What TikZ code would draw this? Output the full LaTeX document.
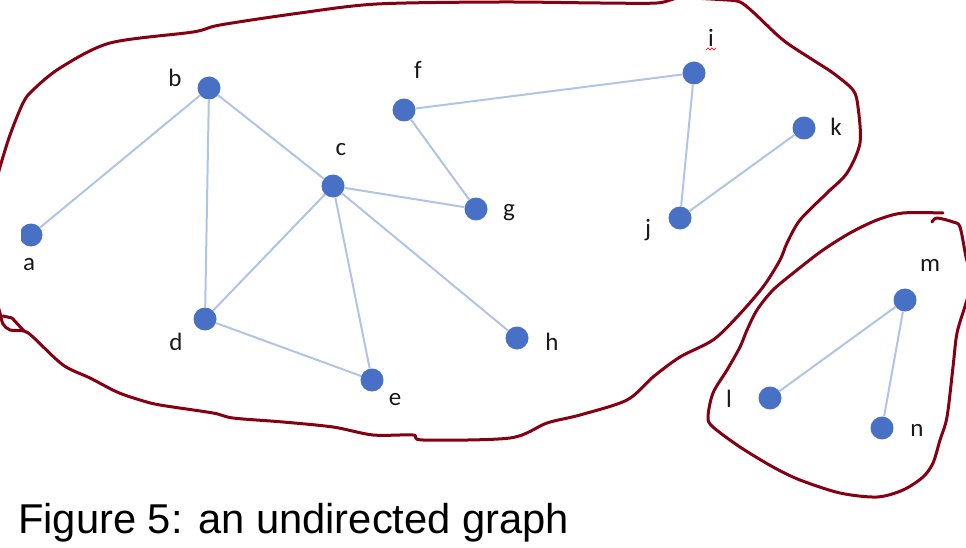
\documentclass[tikz,border=0pt]{standalone}
\usepackage{fontspec}
\setmainfont{Carlito}
\newfontfamily\capfont{Liberation Sans}
\definecolor{nodeblue}{RGB}{72,112,196}
\definecolor{edgeblue}{RGB}{176,196,230}
\definecolor{loopred}{RGB}{132,0,18}
\definecolor{squig}{RGB}{230,60,60}
\begin{document}
\begin{tikzpicture}[x=1pt,y=-1pt,
  vtx/.style={circle,fill=nodeblue,draw=none,minimum size=23pt,inner sep=0pt},
  lbl/.style={font=\fontsize{25}{29}\selectfont,text=black!90,inner sep=0pt},
  edge/.style={draw=edgeblue,line width=2pt},
  loopline/.style={draw=loopred,line width=3pt,line join=round,line cap=round}]
\useasboundingbox (0,0) rectangle (966,548);
\begin{scope}
\clip (0,0) rectangle (966,548);
% vertices
\begin{scope}
\clip (21,0) rectangle (966,548);
\node[vtx] (a) at (31,235) {};
\end{scope}
\node[vtx] (b) at (209,88) {};
\node[vtx] (c) at (333,186) {};
\node[vtx] (d) at (205,319) {};
\node[vtx] (e) at (372,380) {};
\node[vtx] (f) at (404,110) {};
\node[vtx] (g) at (476,209) {};
\node[vtx] (h) at (517,338) {};
\node[vtx] (i) at (694,73) {};
\node[vtx] (j) at (680,218) {};
\node[vtx] (k) at (804,128) {};
\node[vtx] (l) at (770,398) {};
\node[vtx] (m) at (905,300) {};
\node[vtx] (n) at (882,428) {};
% edges
\draw[edge] (a) -- (b);
\draw[edge] (b) -- (d);
\draw[edge] (b) -- (c);
\draw[edge] (c) -- (d);
\draw[edge] (c) -- (e);
\draw[edge] (c) -- (g);
\draw[edge] (c) -- (h);
\draw[edge] (d) -- (e);
\draw[edge] (f) -- (i);
\draw[edge] (f) -- (g);
\draw[edge] (i) -- (j);
\draw[edge] (j) -- (k);
\draw[edge] (l) -- (m);
\draw[edge] (m) -- (n);
% labels
\node[lbl] (la) at (29,265) {a};
\node[lbl] (lb) at (175,78) {b};
\node[lbl] (lc) at (341,150) {c};
\node[lbl] (ld) at (176,342) {d};
\node[lbl] (le) at (395,400) {e};
\node[lbl] (lf) at (418,70) {f};
\node[lbl] (lg) at (509,213) {g};
\node[lbl] (lh) at (552,342) {h};
\node[lbl] (li) at (711,38) {i};
\node[lbl] (lj) at (648,230) {j};
\node[lbl] (lk) at (836,127) {k};
\node[lbl] (ll) at (729,399) {l};
\node[lbl] (lm) at (930,265) {m};
\node[lbl] (ln) at (917,430) {n};
\draw[squig,line width=0.8pt] (706,50) -- (708,48) -- (710,50) -- (712,48) -- (714,50) -- (716,48);
% big enclosing loop
\draw[loopline] plot[smooth,tension=0.5] coordinates {
  (-20,235) (-6,190) (0,167) (10,135) (23,103) (33,90) (60,68) (110,43) (193,32) (220,25)
  (300,13) (377,4) (500,2) (600,3) (657,3) (680,-2) (727,0) (740,2) (753,12)
  (783,40) (813,60) (833,73) (853,90) (858,107) (860,143) (847,173) (827,193)
  (800,220) (787,243) (780,260) (763,287) (737,317) (713,340) (680,357)
  (653,377) (627,400) (580,415) (547,423) (510,438) (423,440) (413,435)
  (373,435) (333,427) (283,422) (233,418) (213,413) (160,405) (140,400)
  (117,392) (90,378) (63,365) (33,337) (24,331) (10,330) (3,324) (0,313) (-4,300) (-15,270)};
\draw[loopline] (3,316) -- (12,318) -- (24,331);
% small enclosing loop
\draw[loopline] plot[smooth,tension=0.5] coordinates {
  (943,213) (903,213) (877,220) (850,233) (823,250) (797,270) (773,290)
  (757,310) (747,330) (740,347) (727,370) (713,393) (708,417) (713,427)
  (740,447) (773,467) (800,480) (840,493) (877,497) (903,490) (923,477)
  (933,463) (940,440) (947,417) (953,367) (957,333) (966,303) (972,280)
  (966,257) (960,227) (953,222) (937,218) (932,222)};
\end{scope}
% caption
\node[anchor=base west,inner sep=0pt,font=\capfont\fontsize{41.7}{48}\selectfont] (cap) at (18,533) {Figure 5: an undirected graph};
\end{tikzpicture}
\end{document}
